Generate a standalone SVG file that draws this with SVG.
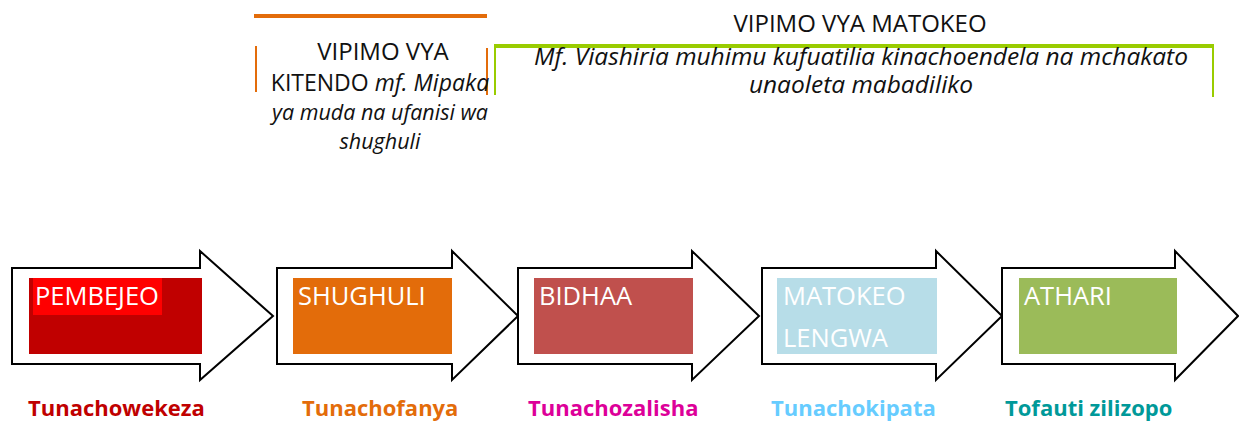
<svg xmlns="http://www.w3.org/2000/svg" width="1239" height="421" viewBox="0 0 1239 421">
<style>
.arrow{fill:#fff;stroke:#000;stroke-width:2;stroke-linejoin:miter}
.lbl{font-family:"Open Sans","Liberation Sans",sans-serif;font-size:25.5px;fill:#fff}
.hdr{font-family:"Open Sans","Liberation Sans",sans-serif;fill:#111}
.it{font-style:italic}
.bot{font-family:"Open Sans","Liberation Sans",sans-serif;font-size:22px;font-weight:bold}
</style>
<g id="process">
<polygon class="arrow" points="12,268 200,268 200,251 273,316 200,380 200,364 12,364"/>
<polygon class="arrow" points="277,268 452,268 452,251 518,316 452,380 452,364 277,364"/>
<polygon class="arrow" points="518,268 692,268 692,251 759,316 692,380 692,364 518,364"/>
<polygon class="arrow" points="762,268 936,268 936,251 1002,316 936,380 936,364 762,364"/>
<polygon class="arrow" points="1002,268 1175,268 1175,251 1238,316 1175,380 1175,364 1002,364"/>
</g>
<g id="pembejeo">
<rect x="29" y="278" width="173" height="76" fill="#C00000"/>
<rect x="33" y="278" width="129" height="37" fill="#FF0000"/>
<text class="lbl" x="35" y="305">PEMBEJEO</text>
</g>
<g id="shughuli">
<rect x="293" y="278" width="159" height="76" fill="#E36C0A"/>
<text class="lbl" x="298" y="305">SHUGHULI</text>
</g>
<g id="bidhaa">
<rect x="534" y="278" width="159" height="76" fill="#C0504D"/>
<text class="lbl" x="539" y="305">BIDHAA</text>
</g>
<g id="matokeo">
<rect x="777" y="278" width="160" height="76" fill="#B7DDE8"/>
<text class="lbl" x="783" y="305">MATOKEO</text>
<text class="lbl" x="783" y="347">LENGWA</text>
</g>
<g id="athari">
<rect x="1019" y="278" width="158" height="76" fill="#9BBB59"/>
<text class="lbl" x="1024" y="305">ATHARI</text>
</g>
<g id="bottom-labels">
<text class="bot" x="28" y="416" fill="#C00000">Tunachowekeza</text>
<text class="bot" x="302" y="416" fill="#E36C0A">Tunachofanya</text>
<text class="bot" x="528" y="416" fill="#DD0099">Tunachozalisha</text>
<text class="bot" x="771" y="416" fill="#66CCFF">Tunachokipata</text>
<text class="bot" x="1005" y="416" fill="#009999">Tofauti zilizopo</text>
</g>
<g id="vipimo-kitendo">
<line x1="254" y1="16" x2="487" y2="16" stroke="#E36C0A" stroke-width="4"/>
<line x1="256" y1="46" x2="256" y2="92" stroke="#E36C0A" stroke-width="2"/>
<line x1="487" y1="48" x2="487" y2="95" stroke="#E36C0A" stroke-width="2"/>
<text class="hdr" text-anchor="middle" x="383" y="60" style="font-size:24px">VIPIMO VYA</text>
<text class="hdr" text-anchor="middle" x="380" y="91" style="font-size:23px">KITENDO <tspan class="it">mf. Mipaka</tspan></text>
<text class="hdr it" text-anchor="middle" x="380" y="120" style="font-size:21.5px">ya muda na ufanisi wa</text>
<text class="hdr it" text-anchor="middle" x="380" y="149" style="font-size:21.5px">shughuli</text>
</g>
<g id="vipimo-matokeo">
<line x1="494" y1="46" x2="1214" y2="46" stroke="#99CC00" stroke-width="4"/>
<line x1="495" y1="46" x2="495" y2="95" stroke="#99CC00" stroke-width="2"/>
<line x1="1213" y1="48" x2="1213" y2="97" stroke="#99CC00" stroke-width="2"/>
<text class="hdr" text-anchor="middle" x="860" y="32" style="font-size:24px">VIPIMO VYA MATOKEO</text>
<text class="hdr it" text-anchor="middle" x="861" y="65" style="font-size:24.5px">Mf. Viashiria muhimu kufuatilia kinachoendela na mchakato</text>
<text class="hdr it" text-anchor="middle" x="861" y="93" style="font-size:24.5px">unaoleta mabadiliko</text>
</g>
</svg>
